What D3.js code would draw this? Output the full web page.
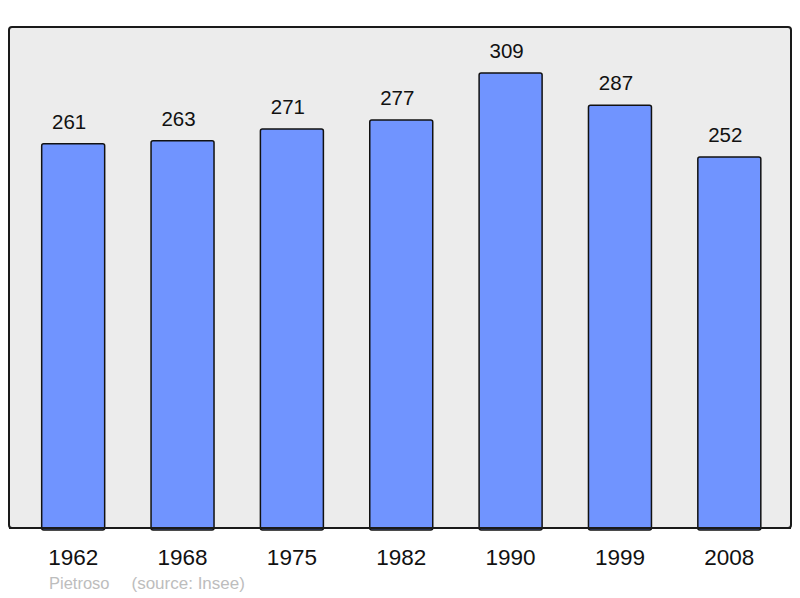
<!DOCTYPE html>
<html>
<head>
<meta charset="utf-8">
<script src="https://cdn.jsdelivr.net/npm/d3@7"></script>
<style>
  body { margin: 0; background: #fff; }
  text { font-family: "Liberation Sans", Arial, sans-serif; }
</style>
</head>
<body>
<div id="chart-area"></div>
<script>
// population data
const years = ["1962", "1968", "1975", "1982", "1990", "1999", "2008"]
const population = [261, 263, 271, 277, 309, 287, 252]
const commune = "Pietroso"
const source = "(source: Insee)"

const W = 800
const H = 598
const FRAME = { LEFT: 9, RIGHT: 791, TOP: 27, BOTTOM: 528 }

const svg = d3.select("#chart-area").append("svg")
  .attr("width", W)
  .attr("height", H)

// background frame
svg.append("rect")
  .attr("x", FRAME.LEFT)
  .attr("y", FRAME.TOP)
  .attr("width", FRAME.RIGHT - FRAME.LEFT)
  .attr("height", FRAME.BOTTOM - FRAME.TOP)
  .attr("rx", 3)
  .attr("fill", "#ececec")
  .attr("stroke", "#1a1a1a")
  .attr("stroke-width", 2)

// scales
const x = d3.scaleBand()
  .domain(years)
  .range([18.5, 784])
  .paddingInner(0.424)
  .paddingOuter(0.212)

const y = d3.scaleLinear()
  .domain([0, 340.2])
  .range([FRAME.BOTTOM, FRAME.TOP])

const data = years.map((yr, i) => ({ year: yr, value: population[i] }))

// bars
svg.selectAll("rect.bar")
  .data(data)
  .enter().append("rect")
  .attr("class", "bar")
  .attr("x", d => x(d.year))
  .attr("y", d => y(d.value))
  .attr("width", x.bandwidth())
  .attr("height", d => y(0) - y(d.value) + 2)
  .attr("rx", 2)
  .attr("fill", "#7094ff")
  .attr("stroke", "#111")
  .attr("stroke-width", 1.5)

// redraw the frame bottom line over the bars
svg.append("line")
  .attr("x1", FRAME.LEFT)
  .attr("x2", FRAME.RIGHT)
  .attr("y1", FRAME.BOTTOM)
  .attr("y2", FRAME.BOTTOM)
  .attr("stroke", "#1a1a1a")
  .attr("stroke-width", 2)

// value labels (sit slightly left of the bar centre)
svg.selectAll("text.value")
  .data(data)
  .enter().append("text")
  .attr("class", "value")
  .attr("x", d => x(d.year) + x.bandwidth() / 2 - 4)
  .attr("y", d => y(d.value) - 15)
  .attr("text-anchor", "middle")
  .attr("font-size", "20.5px")
  .attr("fill", "#111")
  .text(d => d.value)

// year axis
const xAxis = svg.append("g")
  .attr("transform", `translate(0, ${FRAME.BOTTOM})`)
  .call(d3.axisBottom(x).tickSize(0).tickPadding(0))
xAxis.select(".domain").remove()
xAxis.selectAll("text")
  .attr("dy", null)
  .attr("y", 36.5)
  .attr("font-size", "22.5px")
  .attr("font-family", "Liberation Sans, Arial, sans-serif")
  .attr("fill", "#111")

// footer
svg.append("text")
  .attr("x", 49)
  .attr("y", 589)
  .attr("font-size", "16.5px")
  .attr("fill", "#bdbdbd")
  .text(commune)

svg.append("text")
  .attr("x", 131.5)
  .attr("y", 589)
  .attr("font-size", "17px")
  .attr("fill", "#bdbdbd")
  .text(source)
</script>
</body>
</html>
